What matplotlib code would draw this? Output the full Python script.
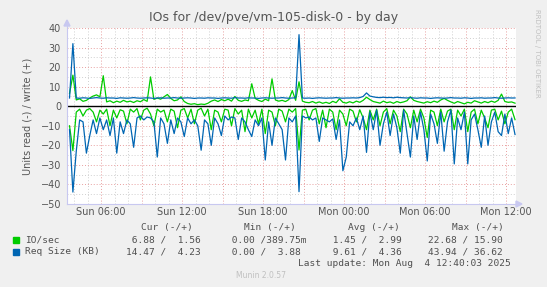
import numpy as np
import matplotlib.pyplot as plt
from matplotlib.patches import Rectangle, Polygon
from matplotlib.lines import Line2D

# munin "diskstats iops" day graph, 15 min samples from Sun 03:40 to Mon 12:40
io_write = [6.5, 15.9, 3.2, 3.8, 2.5, 3.0, 4.2, 5.2, 5.8, 4.8,
            15.6, 2.2, 2.8, 1.8, 2.6, 2.0, 3.0, 2.2, 2.6, 1.9,
            2.8, 2.3, 3.4, 2.5, 15.0, 3.5, 4.2, 3.6, 4.8, 6.0,
            4.0, 2.8, 3.2, 4.8, 2.4, 1.4, 1.0, 1.3, 0.8, 1.1,
            0.9, 1.5, 2.6, 3.2, 2.4, 3.4, 2.8, 3.6, 2.6, 5.0,
            3.0, 2.5, 3.2, 2.8, 11.5, 4.0, 3.0, 2.4, 3.6, 2.8,
            14.0, 3.2, 2.6, 3.0, 2.4, 3.4, 8.0, 3.0, 12.5, 2.6,
            2.0, 1.8, 2.4, 1.6, 2.2, 1.5, 2.0, 1.4, 2.5, 1.8,
            3.8, 2.0, 1.6, 2.3, 1.7, 2.6, 2.0, 3.0, 4.6, 3.4,
            2.4, 2.0, 1.6, 2.6, 1.8, 2.2, 1.5, 2.4, 1.8, 2.2,
            2.8, 4.8, 3.0, 2.4, 2.0, 1.6, 2.3, 1.8, 2.6, 2.0,
            3.2, 4.0, 3.0, 2.2, 1.5, 2.4, 1.8, 1.2, 2.0, 1.6,
            2.8, 2.2, 1.6, 2.4, 1.8, 2.6, 2.0, 3.0, 6.2, 2.4,
            2.0, 2.2, 1.56]
io_read = [-10, -22.7, -3, -1.5, -5, -2, -1.2, -3, -8, -2,
           -4, -1.5, -10, -2, -6, -1.8, -2.5, -9, -1.5, -3,
           -1.2, -7, -2, -1, -4, -10, -1.5, -3, -2, -8,
           -1.5, -2.5, -11, -2, -1.2, -6, -1.5, -9, -2, -1,
           -5, -1.5, -12, -2, -3, -8, -1.5, -2, -10, -1.2,
           -4, -2, -13, -1.5, -6, -2, -9, -1.5, -14, -2,
           -3, -10, -1.5, -2.5, -8, -1.5, -3, -1.2, -22.4, -2,
           -1.5, -7, -2, -1.2, -9, -2, -11, -1.5, -3, -12,
           -2, -4, -10, -1.5, -2.5, -8, -1.8, -6, -12, -2,
           -7, -1.5, -10, -3, -1.2, -9, -2, -5, -13, -1.5,
           -4, -11, -2, -8, -1.5, -6, -16, -2, -3, -10,
           -1.5, -8, -2.5, -1.5, -12, -2, -5, -1.5, -13, -3,
           -1.5, -9, -2, -6, -11, -2, -1.5, -7, -2.5, -9,
           -3, -1.5, -6.88]
req_write = [4.2, 32.0, 4.2, 4.1, 4.3, 4.2, 4.0, 4.2, 4.4, 4.2,
             4.1, 4.3, 4.2, 4.2, 4.0, 4.3, 4.2, 4.1, 4.2, 4.4,
             4.2, 4.1, 4.2, 4.3, 4.2, 4.0, 4.2, 4.3, 4.1, 4.2,
             4.2, 4.4, 4.2, 4.1, 4.2, 4.3, 4.2, 4.0, 4.2, 4.2,
             4.1, 4.3, 4.2, 4.2, 4.0, 4.2, 4.3, 4.2, 4.1, 4.4,
             4.2, 4.2, 4.1, 4.3, 4.2, 4.2, 4.0, 4.2, 4.3, 4.2,
             4.1, 4.2, 4.2, 4.4, 4.2, 4.1, 4.2, 4.3, 36.6, 4.2,
             4.1, 4.2, 4.0, 4.2, 4.3, 4.2, 4.1, 4.2, 4.2, 4.4,
             4.2, 4.1, 4.2, 4.2, 4.3, 4.2, 4.4, 5.0, 6.8, 5.2,
             4.8, 4.5, 4.4, 4.6, 4.4, 4.5, 4.3, 4.6, 4.4, 4.3,
             4.2, 4.4, 4.2, 4.1, 4.3, 4.2, 4.2, 4.0, 4.2, 4.3,
             4.2, 4.1, 4.2, 4.4, 4.2, 4.2, 4.1, 4.3, 4.2, 4.0,
             4.2, 4.2, 4.3, 4.1, 4.2, 4.2, 4.4, 4.2, 4.1, 4.2,
             4.3, 4.2, 4.23]
req_read = [-12, -43.9, -23, -7, -8, -24, -15, -7, -14, -6,
            -12, -7, -15, -6, -24, -8, -14, -7, -9, -21,
            -6, -5, -7, -5.5, -6, -8, -26, -6, -9, -19,
            -7, -14, -6, -8, -15.5, -6, -9, -7, -10, -22.5,
            -7, -9, -20, -6, -9, -15, -5, -7, -5.5, -6,
            -17, -6, -8, -12, -15.5, -7, -10, -6, -27.5, -8,
            -20, -6, -9, -12, -27.5, -6, -8, -5, -43.7, -5,
            -6, -5.5, -7, -6, -18, -6, -7, -8, -6.5, -17,
            -7, -33, -26, -8, -10, -6, -12, -5, -23.6, -3,
            -12, -2, -20, -9, -3, -15, -4, -11, -24, -2,
            -14, -26, -5, -17, -3, -12, -28, -4, -9, -19,
            -3, -23, -8, -2, -29.5, -6, -12, -3, -29.5, -7,
            -4, -12, -21, -5, -20, -8, -3, -13, -15, -4,
            -14, -6, -14.47]

day_ticks = [6, 12, 18, 24, 30, 36]
day_labels = ["Sun 06:00", "Sun 12:00", "Sun 18:00", "Mon 00:00", "Mon 06:00", "Mon 12:00"]

hours = 3 + 40 / 60 + 0.25 * np.arange(len(io_write))

W, H = 547, 287
GREEN, BLUE = '#00CC00', '#0066B3'

def fx(x):
    return x / W

def fy(y):
    return 1 - y / H

fig = plt.figure(figsize=(W / 100, H / 100), dpi=100, facecolor='#F0F0F0')
ax = fig.add_axes([fx(67), fy(204), fx(516) - fx(67), fy(28) - fy(204)])
ax.set_facecolor('white')
ax.set_xlim(3.48, 36.74)
ax.set_ylim(-50, 40)

# grid: grey minor, red major
for h in range(4, 37):
    c = '#E8A0A0' if h % 3 == 0 else '#D0D0D0'
    ax.axvline(h, color=c, lw=0.7, dashes=(1, 2), zorder=1)
for v in range(-45, 41, 5):
    c = '#E8A0A0' if v % 10 == 0 else '#D0D0D0'
    ax.axhline(v, color=c, lw=0.7, dashes=(1, 2), zorder=1)

ax.plot(hours, io_read, color=GREEN, lw=0.9, zorder=3)
ax.plot(hours, io_write, color=GREEN, lw=0.9, zorder=3)
ax.plot(hours, req_read, color=BLUE, lw=0.9, zorder=4)
ax.plot(hours, req_write, color=BLUE, lw=0.9, zorder=4)
ax.axhline(0, color='black', lw=1.0, zorder=5)

for s in ax.spines.values():
    s.set_visible(False)
ax.set_xticks(day_ticks)
ax.set_xticklabels(day_labels)
ax.set_yticks(range(-50, 41, 10))
ax.tick_params(length=0, colors='#555555', labelsize=7)
ax.tick_params(axis='y', pad=4.3)
ax.tick_params(axis='x', pad=2.5)
ax.set_ylabel("Units read (-) / write (+)", fontsize=7, color='#555555', labelpad=6)

# axis lines with arrows, drawn like rrdtool
axc = '#C8C8F0'
fig.add_artist(Line2D([fx(67), fx(67)], [fy(204), fy(24)], color=axc, lw=0.8))
fig.add_artist(Line2D([fx(67), fx(518)], [fy(204), fy(204)], color=axc, lw=0.8))
fig.add_artist(Polygon([[fx(64), fy(26)], [fx(70), fy(26)], [fx(67), fy(20)]], closed=True, color=axc))
fig.add_artist(Polygon([[fx(516), fy(201)], [fx(516), fy(207)], [fx(522), fy(204)]], closed=True, color=axc))

fig.text(0.5, fy(18), "IOs for /dev/pve/vm-105-disk-0 - by day", ha='center', va='center',
         fontsize=9, color='#555555')
fig.text(fx(537), fy(53), "RRDTOOL / TOBI OETIKER", rotation=270, ha='center', va='center',
         fontsize=5, color='#C0C0C0')

# legend block
mono = dict(family='DejaVu Sans Mono', fontsize=6.8, color='#505050', va='center')
for x, s in [(141, "Cur (-/+)"), (244, "Min (-/+)"), (348, "Avg (-/+)"), (452, "Max (-/+)")]:
    fig.text(fx(x), fy(227.5), s, **mono)

rows = [(240, GREEN, "IO/sec", [" 6.88 /  1.56", " 0.00 /389.75m", " 1.45 /  2.99", "22.68 / 15.90"]),
        (252, BLUE, "Req Size (KB)", ["14.47 /  4.23", " 0.00 /  3.88", " 9.61 /  4.36", "43.94 / 36.62"])]
for y, c, name, vals in rows:
    fig.add_artist(Rectangle((fx(13), fy(y + 3)), fx(6), fy(y - 3) - fy(y + 3), color=c))
    fig.text(fx(25), fy(y), name, **mono)
    for x, s in zip([126, 226, 327, 428], vals):
        fig.text(fx(x), fy(y), s, **mono)

fig.text(fx(298), fy(263.5), "Last update: Mon Aug  4 12:40:03 2025", **mono)
fig.text(fx(261), fy(276), "Munin 2.0.57", ha='center', va='center', fontsize=5.5, color='#C0C0C0')

fig.savefig("out.png", dpi=100, facecolor=fig.get_facecolor())
